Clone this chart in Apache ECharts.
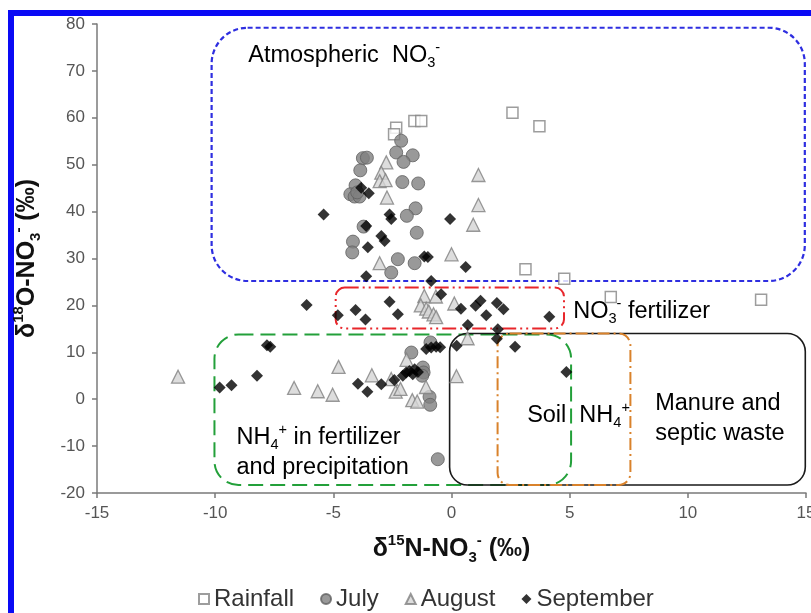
<!DOCTYPE html>
<html>
<head>
<meta charset="utf-8">
<script src="https://cdn.jsdelivr.net/npm/echarts@6/dist/echarts.min.js"></script>
<style>
  html, body { margin: 0; padding: 0; background: #fff; }
  #chart { width: 811px; height: 613px; }
</style>
</head>
<body>
<div id="chart"></div>
<script>
// d15N, d18O pairs
var rainfall = [
    [2.58, 61.1], [3.72, 58.2], [-2.34, 57.9], [-2.43, 56.5], [-1.57, 59.3], [-1.28, 59.3],
    [3.13, 27.7], [4.77, 25.7], [6.74, 21.8], [13.1, 21.2]
];
var july = [
    [-2.13, 55.1], [-2.34, 52.6], [-1.64, 52.0], [-2.03, 50.6], [-3.75, 51.4], [-3.58, 51.5],
    [-3.86, 48.8], [-2.08, 46.3], [-1.41, 46.0], [-4.06, 45.6], [-4.28, 43.7], [-4.1, 43.2],
    [-3.89, 43.2], [-3.99, 44.1], [-1.52, 40.7], [-1.89, 39.1], [-3.72, 36.8], [-1.47, 35.5],
    [-4.17, 33.6], [-4.2, 31.3], [-2.27, 29.85], [-1.56, 29.0], [-2.55, 27.0], [-0.89, 12.1],
    [-1.7, 9.95], [-1.21, 6.75], [-1.18, 5.7], [-1.24, 5.0], [-0.93, 0.5], [-0.9, -1.2],
    [-0.58, -12.8]
];
var august = [
    [1.14, 47.8], [1.14, 41.4], [0.92, 37.2], [0.0, 30.9], [-2.76, 50.5], [-2.97, 48.3],
    [-3.04, 46.5], [-2.79, 46.7], [-2.73, 43.0], [-3.04, 29.0], [-1.15, 22.0], [-0.66, 21.9],
    [-1.3, 20.0], [-1.07, 19.3], [-0.96, 18.7], [-0.76, 18.1], [-0.65, 17.5], [0.12, 20.4],
    [0.68, 13.0], [-11.57, 4.8], [-6.66, 2.4], [-5.66, 1.7], [-5.03, 0.95], [-4.78, 6.9],
    [-3.37, 5.1], [-2.55, 4.3], [-2.36, 1.6], [-2.16, 2.2], [-1.9, 8.4], [-1.08, 2.6],
    [-1.66, -0.2], [-1.45, -0.5], [0.21, 4.9]
];
var september = [
    [-3.82, 45.1], [-3.5, 43.9], [-5.41, 39.4], [-2.62, 39.4], [-2.55, 38.4], [-0.06, 38.4],
    [-3.61, 36.95], [-2.97, 34.8], [-2.83, 33.75], [-3.54, 32.4], [-1.15, 30.4], [-1.0, 30.3],
    [0.6, 28.2], [-3.61, 26.2], [-0.86, 25.2], [-0.44, 22.4], [-6.13, 20.1], [-2.62, 20.8],
    [-4.81, 17.9], [-4.06, 19.0], [-3.64, 17.0], [-2.27, 18.1], [0.4, 19.3], [1.02, 19.9],
    [1.23, 21.0], [1.47, 17.9], [1.92, 20.5], [2.2, 19.2], [0.69, 15.8], [1.96, 14.9],
    [1.92, 12.9], [4.14, 17.6], [2.69, 11.2], [0.22, 11.4], [-0.48, 11.1], [-0.65, 11.2],
    [-0.86, 11.0], [-1.07, 10.7], [4.86, 5.8], [-9.81, 2.5], [-9.31, 3.0], [-8.23, 5.0],
    [-7.81, 11.5], [-7.67, 11.2], [-3.96, 3.3], [-3.56, 1.6], [-2.97, 3.2], [-2.42, 4.1],
    [-2.06, 5.0], [-1.92, 5.7], [-1.78, 6.0], [-1.56, 6.4], [-1.64, 5.3], [-1.42, 5.8]
];

// source ranges: [d15N min, d15N max, d18O min, d18O max]
var sourceNames = ['atmospheric', 'no3fert', 'nh4fert', 'manure', 'soil'];
var sourceRanges = [
    [-10.15, 14.95, 25.2, 79.2],
    [-4.9, 4.76, 15.1, 23.8],
    [-10.03, 5.06, -18.3, 13.8],
    [-0.08, 14.97, -18.3, 14.0],
    [1.95, 7.57, -18.3, 14.0]
];

var FONT = '"Liberation Sans", Arial, sans-serif';

// look of each source box and where its label sits (data coords)
var boxStyle = {
    atmospheric: { color: '#2e2ee0', dash: [5, 3], width: 2.2, r: 36,
        label: '{n|Atmospheric  NO}{sub|3}{sup|-}', at: [-8.6, 73.2] },
    no3fert: { color: '#e8262b', dash: [14, 4, 2, 4, 2, 4], width: 2, r: 9,
        label: '{n|NO}{sub|3}{sup|-}{n| fertilizer}', at: [5.15, 18.6] },
    nh4fert: { color: '#23a03a', dash: [15, 7], width: 2, r: 24,
        label: '{n|NH}{sub|4}{sup|+}{n| in fertilizer}\n{n|and precipitation}', at: [-9.1, -11.4] },
    manure: { color: '#1a1a1a', dash: null, width: 1.6, r: 18,
        label: '{n|Manure and}\n{n|septic waste}', at: [8.62, -4.1] },
    soil: { color: '#d9822b', dash: [12, 4, 2, 4], width: 2, r: 12,
        label: '{n|Soil  NH}{sub|4}{sup|+}', at: [3.2, -3.4] }
};

function richFor(color, size) {
    return {
        n: { fontSize: size, fontFamily: FONT, color: color, lineHeight: 30 },
        sub: { fontSize: size * 0.62, fontFamily: FONT, color: color, verticalAlign: 'bottom', lineHeight: 30 },
        sup: { fontSize: size * 0.62, fontFamily: FONT, color: color, verticalAlign: 'top', lineHeight: 30 }
    };
}

function renderBox(params, api) {
    var key = sourceNames[params.dataIndex];
    var st = boxStyle[key];
    var p0 = api.coord([api.value(0), api.value(3)]);
    var p1 = api.coord([api.value(1), api.value(2)]);
    var tp = api.coord(st.at);
    return {
        type: 'group',
        children: [{
            type: 'rect',
            shape: { x: p0[0], y: p0[1], width: p1[0] - p0[0], height: p1[1] - p0[1], r: st.r },
            style: { fill: null, stroke: st.color, lineWidth: st.width, lineDash: st.dash }
        }, {
            type: 'text',
            x: tp[0],
            y: tp[1],
            style: {
                text: st.label,
                rich: richFor(st.color, 23.5),
                align: 'left',
                verticalAlign: 'middle'
            }
        }]
    };
}

var axisRich = {
    b: { fontSize: 25, fontWeight: 'bold', fontFamily: FONT, color: '#111', lineHeight: 32 },
    sup: { fontSize: 15, fontWeight: 'bold', fontFamily: FONT, color: '#111', verticalAlign: 'top', lineHeight: 32 },
    sub: { fontSize: 15, fontWeight: 'bold', fontFamily: FONT, color: '#111', verticalAlign: 'bottom', lineHeight: 32 }
};

var chart = echarts.init(document.getElementById('chart'));
var option = {
    backgroundColor: '#fff',
    animation: false,
    grid: { left: 97, right: 5, top: 24, bottom: 120, outerBoundsMode: 'none' },
    graphic: [{
        type: 'rect',
        shape: { x: 11, y: 13, width: 900, height: 700 },
        style: { fill: null, stroke: '#0a0af5', lineWidth: 6 },
        silent: true
    }],
    legend: {
        bottom: -3,
        left: 193,
        itemWidth: 10,
        itemHeight: 10,
        itemGap: 26,
        textStyle: { fontSize: 24, fontFamily: FONT, color: '#333' },
        data: ['Rainfall', 'July', 'August', 'September']
    },
    xAxis: {
        type: 'value',
        min: -15, max: 15, interval: 5,
        name: '{b|δ}{sup|15}{b|N-NO}{sub|3}{sup|-}{b| (‰)}',
        nameLocation: 'middle',
        nameGap: 40,
        nameTextStyle: { rich: axisRich },
        axisLine: { onZero: false, lineStyle: { color: '#7a7a7a', width: 1.5 } },
        axisTick: { show: true, length: 5, lineStyle: { color: '#7a7a7a', width: 1.5 } },
        axisLabel: { fontSize: 17, fontFamily: FONT, color: '#555', margin: 12 },
        splitLine: { show: false }
    },
    yAxis: {
        type: 'value',
        min: -20, max: 80, interval: 10,
        name: '{b|δ}{sup|18}{b|O-NO}{sub|3}{sup|-}{b| (‰)}',
        nameLocation: 'middle',
        nameGap: 54,
        nameTextStyle: { rich: axisRich },
        axisLine: { show: true, onZero: false, lineStyle: { color: '#7a7a7a', width: 1.5 } },
        axisTick: { show: true, length: 5, lineStyle: { color: '#7a7a7a', width: 1.5 } },
        axisLabel: { fontSize: 17, fontFamily: FONT, color: '#555', margin: 12 },
        splitLine: { show: false }
    },
    series: [{
        type: 'custom',
        name: 'sources',
        renderItem: renderBox,
        encode: { x: [0, 1], y: [2, 3] },
        data: sourceRanges,
        z: 1,
        silent: true
    }, {
        type: 'scatter',
        name: 'Rainfall',
        symbol: 'rect',
        symbolSize: 11,
        itemStyle: { color: '#fff', borderColor: '#858585', borderWidth: 1.5 },
        data: rainfall,
        z: 3
    }, {
        type: 'scatter',
        name: 'July',
        symbol: 'circle',
        symbolSize: 13,
        itemStyle: { color: '#7f7f7f', borderColor: '#606060', borderWidth: 1 },
        data: july,
        z: 3
    }, {
        type: 'scatter',
        name: 'August',
        symbol: 'triangle',
        symbolSize: 13,
        itemStyle: { color: '#d4d4d4', borderColor: '#808080', borderWidth: 1.3 },
        data: august,
        z: 4
    }, {
        type: 'scatter',
        name: 'September',
        symbol: 'diamond',
        symbolSize: 12,
        itemStyle: { color: '#000' },
        data: september,
        z: 5
    }]
};
chart.setOption(option);
</script>
</body>
</html>
